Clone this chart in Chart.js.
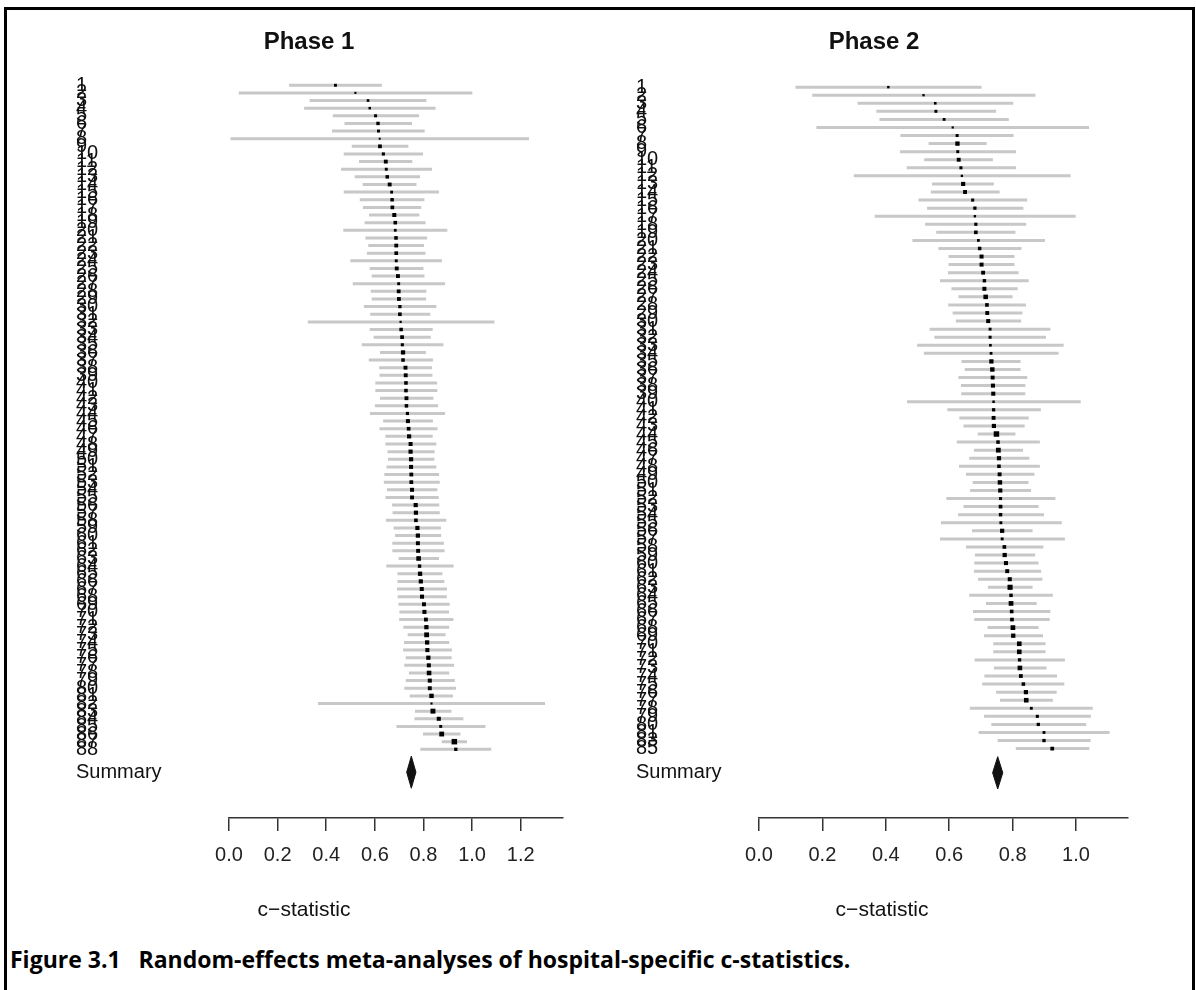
<!DOCTYPE html>
<html>
<head>
<meta charset="utf-8">
<title>Figure 3.1</title>
<script src="https://cdn.jsdelivr.net/npm/chart.js@4.4.0/dist/chart.umd.min.js"></script>
<style>
  html, body { margin: 0; padding: 0; background: #fff; }
  #page { position: relative; width: 1196px; height: 990px; overflow: hidden; background: #fff; }
  #frame { position: absolute; left: 4px; top: 7px; width: 1185px; height: 1000px; border: 3px solid #000; }
  .panel { position: absolute; top: 0; }
  #phase1 { left: 0; }
  #phase2 { left: 598px; }
  #caption { position: absolute; left: 10px; top: 943px; line-height: 30px; font: bold 23px "Open Sans", Lato, sans-serif; white-space: pre; color: #000; }
</style>
</head>
<body>
<div id="page">
  <div id="frame"></div>
  <canvas id="phase1" class="panel" width="598" height="940"></canvas>
  <canvas id="phase2" class="panel" width="598" height="940"></canvas>
  <div id="caption">Figure 3.1   Random-effects meta-analyses of hospital-specific c-statistics.</div>
</div>
<script>
// Phase 1 hospitals (row labels, estimate, lower and upper CI bound)
const phase1Labels = ['1','2','3','4','5','6','7','8','9','10',
  '11','12','13','14','15','16','17','18','19','20',
  '21','22','23','24','25','26','27','28','29','30',
  '31','32','33','34','35','36','37','38','39','40',
  '41','42','43','44','45','46','47','48','49','50',
  '51','52','53','54','55','56','57','58','59','60',
  '61','62','63','64','65','66','67','68','69','70',
  '71','72','73','74','75','76','77','78','79','80',
  '81','82','83','84','85','86','87','88'];
const phase1Est = [0.438,0.520,0.572,0.579,0.603,0.613,0.615,0.620,0.621,0.635,
  0.645,0.647,0.651,0.661,0.669,0.671,0.672,0.680,0.684,0.684,
  0.687,0.688,0.688,0.688,0.690,0.695,0.698,0.698,0.699,0.703,
  0.703,0.706,0.708,0.712,0.713,0.716,0.716,0.726,0.727,0.728,
  0.728,0.730,0.730,0.734,0.736,0.739,0.741,0.747,0.747,0.749,
  0.749,0.750,0.750,0.753,0.753,0.768,0.769,0.769,0.775,0.777,
  0.777,0.778,0.780,0.784,0.786,0.789,0.793,0.794,0.802,0.804,
  0.810,0.812,0.813,0.815,0.816,0.820,0.822,0.823,0.826,0.826,
  0.833,0.833,0.839,0.863,0.871,0.875,0.927,0.933];
const phase1Lower = [0.247,0.040,0.332,0.309,0.427,0.475,0.424,0.006,0.505,0.472,
  0.535,0.461,0.517,0.550,0.472,0.538,0.551,0.576,0.558,0.470,
  0.561,0.573,0.567,0.499,0.579,0.587,0.509,0.583,0.587,0.555,
  0.581,0.324,0.579,0.595,0.546,0.621,0.575,0.618,0.619,0.602,
  0.602,0.621,0.600,0.580,0.634,0.619,0.643,0.643,0.652,0.654,
  0.648,0.639,0.637,0.650,0.644,0.671,0.673,0.646,0.677,0.683,
  0.672,0.672,0.698,0.647,0.693,0.693,0.691,0.694,0.697,0.701,
  0.700,0.717,0.735,0.720,0.716,0.727,0.721,0.740,0.727,0.721,
  0.743,0.366,0.765,0.763,0.689,0.798,0.875,0.787];
const phase1Upper = [0.629,1.001,0.812,0.850,0.782,0.753,0.805,1.234,0.738,0.798,
  0.754,0.835,0.786,0.771,0.864,0.804,0.791,0.783,0.809,0.898,
  0.815,0.802,0.808,0.876,0.800,0.804,0.889,0.812,0.811,0.853,
  0.828,1.092,0.838,0.830,0.882,0.810,0.839,0.835,0.837,0.856,
  0.857,0.841,0.860,0.889,0.839,0.858,0.838,0.853,0.846,0.845,
  0.853,0.864,0.867,0.857,0.863,0.865,0.867,0.894,0.872,0.873,
  0.884,0.887,0.864,0.924,0.878,0.886,0.897,0.896,0.908,0.905,
  0.923,0.906,0.891,0.906,0.917,0.916,0.926,0.906,0.929,0.934,
  0.921,1.300,0.915,0.964,1.055,0.952,0.979,1.079];
const phase1Summary = [0.731, 0.750, 0.769];
const phase1Ticks = [0.0, 0.2, 0.4, 0.6, 0.8, 1.0, 1.2];

// Phase 2 hospitals
const phase2Labels = ['1','2','3','4','5','6','7','8','9','10',
  '11','12','13','14','15','16','17','18','19','20',
  '21','22','23','24','25','26','27','28','29','30',
  '31','32','33','34','35','36','37','38','39','40',
  '41','42','43','44','45','46','47','48','49','50',
  '51','52','53','54','55','56','57','58','59','60',
  '61','62','63','64','65','66','67','68','69','70',
  '71','72','73','74','75','76','77','78','79','80',
  '81','83','85'];
const phase2Est = [0.408,0.519,0.556,0.558,0.584,0.611,0.625,0.626,0.627,0.630,
  0.637,0.640,0.644,0.650,0.674,0.681,0.681,0.684,0.684,0.692,
  0.696,0.702,0.702,0.707,0.711,0.711,0.715,0.719,0.720,0.723,
  0.729,0.729,0.730,0.732,0.733,0.736,0.737,0.738,0.739,0.740,
  0.740,0.740,0.741,0.749,0.754,0.755,0.757,0.757,0.759,0.760,
  0.761,0.762,0.762,0.762,0.763,0.767,0.767,0.774,0.775,0.779,
  0.783,0.791,0.792,0.795,0.795,0.797,0.798,0.801,0.802,0.821,
  0.821,0.822,0.823,0.826,0.834,0.842,0.843,0.859,0.878,0.881,
  0.899,0.899,0.925];
const phase2Lower = [0.115,0.168,0.311,0.370,0.380,0.181,0.446,0.535,0.445,0.521,
  0.466,0.299,0.546,0.542,0.503,0.530,0.365,0.524,0.559,0.484,
  0.566,0.598,0.598,0.596,0.571,0.607,0.629,0.597,0.611,0.621,
  0.538,0.553,0.499,0.520,0.639,0.649,0.629,0.637,0.638,0.467,
  0.594,0.632,0.645,0.690,0.624,0.678,0.663,0.631,0.653,0.674,
  0.666,0.591,0.645,0.628,0.574,0.672,0.571,0.653,0.681,0.679,
  0.678,0.691,0.722,0.663,0.716,0.675,0.679,0.721,0.710,0.739,
  0.739,0.680,0.741,0.711,0.704,0.748,0.760,0.665,0.710,0.733,
  0.693,0.753,0.810];
const phase2Upper = [0.702,0.872,0.802,0.748,0.788,1.041,0.803,0.718,0.811,0.738,
  0.811,0.983,0.741,0.759,0.846,0.834,0.999,0.843,0.809,0.902,
  0.828,0.806,0.806,0.819,0.851,0.816,0.800,0.842,0.831,0.827,
  0.919,0.905,0.961,0.945,0.825,0.825,0.846,0.840,0.840,1.015,
  0.889,0.851,0.838,0.809,0.886,0.833,0.853,0.886,0.869,0.850,
  0.858,0.935,0.882,0.899,0.955,0.863,0.965,0.897,0.871,0.882,
  0.890,0.894,0.863,0.927,0.876,0.919,0.917,0.882,0.896,0.904,
  0.904,0.965,0.907,0.940,0.963,0.939,0.927,1.053,1.047,1.032,
  1.106,1.046,1.042];
const phase2Summary = [0.737, 0.753, 0.769];
const phase2Ticks = [0.0, 0.2, 0.4, 0.6, 0.8, 1.0];

const textFont = 'Arial, "Liberation Sans", Helvetica, sans-serif';

// one line piece per hospital, broken by null points
function ciSegments(lower, upper) {
  const pts = [];
  lower.forEach(function(lo, i) {
    pts.push({x: lo, y: i + 1});
    pts.push({x: upper[i], y: i + 1});
    pts.push({x: null, y: null});
  });
  return pts;
}

// bigger squares for narrower intervals (weight-ish)
function markerRadius(lower, upper) {
  return function(ctx) {
    const w = upper[ctx.dataIndex] - lower[ctx.dataIndex];
    const side = Math.min(5.5, 1.6 + 0.5 / w);
    return side / Math.SQRT2;
  };
}

const forestText = {
  id: 'forestText',
  afterDraw: function(chart, args, opts) {
    const ctx = chart.ctx;
    const yScale = chart.scales.y;
    ctx.save();
    ctx.fillStyle = '#111';
    ctx.font = '20px ' + textFont;
    ctx.textAlign = 'left';
    ctx.textBaseline = 'middle';
    opts.labels.forEach(function(lab, i) {
      ctx.fillText(lab, opts.labelX, yScale.getPixelForValue(i + 1));
    });
    ctx.fillText('Summary', opts.labelX, yScale.getPixelForValue(opts.summaryRow));

    ctx.textAlign = 'center';
    ctx.textBaseline = 'alphabetic';
    ctx.font = '21px ' + textFont;
    ctx.fillText('c\u2212statistic', opts.xlabX, 916);

    ctx.font = 'bold 24px ' + textFont;
    ctx.fillText(opts.title, opts.titleX, 49);
    ctx.restore();
  }
};

function buildPanel(canvasId, p) {
  const summaryRow = p.est.length + 3;
  const diamond = [
    {x: p.summary[0], y: summaryRow},
    {x: p.summary[1], y: summaryRow - p.diamondHalf},
    {x: p.summary[2], y: summaryRow},
    {x: p.summary[1], y: summaryRow + p.diamondHalf},
    {x: p.summary[0], y: summaryRow}
  ];

  return new Chart(document.getElementById(canvasId), {
    type: 'scatter',
    data: {
      datasets: [
        {
          data: p.est.map(function(v, i) { return {x: v, y: i + 1}; }),
          pointStyle: 'rect',
          pointRadius: markerRadius(p.lower, p.upper),
          backgroundColor: '#000',
          borderWidth: 0,
          order: 0
        },
        {
          data: diamond,
          showLine: true,
          fill: 'shape',
          backgroundColor: '#111',
          borderColor: '#111',
          borderWidth: 1,
          pointRadius: 0,
          order: 1
        },
        {
          data: ciSegments(p.lower, p.upper),
          showLine: true,
          spanGaps: false,
          borderColor: '#c8c8c8',
          borderWidth: 3,
          pointRadius: 0,
          order: 2
        }
      ]
    },
    options: {
      responsive: false,
      animation: false,
      events: [],
      layout: { padding: p.padding },
      plugins: {
        legend: { display: false },
        tooltip: { enabled: false },
        forestText: {
          labels: p.labels,
          labelX: p.labelX,
          summaryRow: summaryRow,
          title: p.title,
          titleX: p.titleX,
          xlabX: p.xlabX
        }
      },
      scales: {
        x: {
          type: 'linear',
          position: 'bottom',
          min: 0,
          max: p.xMax,
          afterBuildTicks: function(axis) {
            axis.ticks = p.ticks.map(function(v) { return {value: v}; });
          },
          afterFit: function(axis) { axis.height = 60; },
          ticks: {
            callback: function(v) { return v.toFixed(1); },
            font: { size: 20, family: textFont },
            color: '#222',
            padding: 12,
            maxRotation: 0,
            autoSkip: false
          },
          grid: {
            drawOnChartArea: false,
            drawTicks: true,
            tickLength: 13,
            color: '#333',
            lineWidth: 1.5
          },
          border: { display: true, color: '#333', width: 1.5 }
        },
        y: {
          type: 'linear',
          display: false,
          reverse: true,
          min: -1,
          max: p.yMax
        }
      }
    },
    plugins: [forestText]
  });
}

buildPanel('phase1', {
  labels: phase1Labels, est: phase1Est, lower: phase1Lower, upper: phase1Upper,
  summary: phase1Summary, ticks: phase1Ticks,
  title: 'Phase 1', titleX: 309, xlabX: 304, labelX: 76,
  xMax: 1.374, yMax: 97, diamondHalf: 2.1,
  padding: { left: 229, right: 35, top: 70, bottom: 62 }
});

buildPanel('phase2', {
  labels: phase2Labels, est: phase2Est, lower: phase2Lower, upper: phase2Upper,
  summary: phase2Summary, ticks: phase2Ticks,
  title: 'Phase 2', titleX: 276, xlabX: 284, labelX: 38,
  xMax: 1.164, yMax: 91.6, diamondHalf: 2.0,
  padding: { left: 161, right: 68, top: 71, bottom: 62 }
});
</script>
</body>
</html>
